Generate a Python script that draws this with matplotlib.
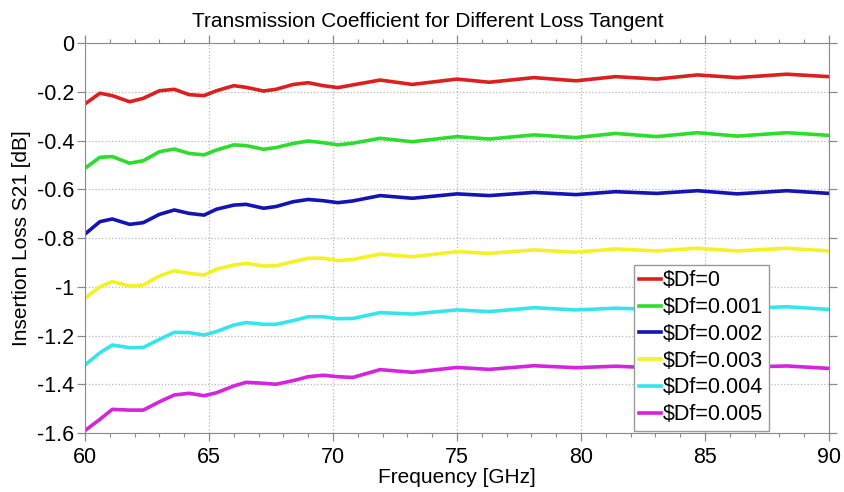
import numpy as np
import matplotlib
matplotlib.use('Agg')
from matplotlib import pyplot as plt
from matplotlib.ticker import MultipleLocator, FormatStrFormatter

# frequency points [GHz]
freq = [60, 60.6, 61.1, 61.8, 62.35, 63.0, 63.6, 64.2, 64.8, 65.3, 66.0, 66.5, 67.2, 67.7,
        68.4, 69.0, 69.6, 70.2, 70.8, 71.9, 73.2, 75.0, 76.3, 78.1, 79.8, 81.4, 83.05,
        84.7, 86.3, 88.3, 90]

# S21 [dB] for each loss tangent
s21_df0 = [-0.250, -0.206, -0.216, -0.241, -0.227, -0.196, -0.190, -0.212, -0.216, -0.196,
           -0.175, -0.182, -0.197, -0.190, -0.170, -0.163, -0.175, -0.183, -0.172, -0.152,
           -0.170, -0.148, -0.161, -0.142, -0.155, -0.138, -0.148, -0.131, -0.142, -0.128, -0.138]
s21_df1 = [-0.514, -0.469, -0.466, -0.493, -0.483, -0.446, -0.435, -0.453, -0.459, -0.439,
           -0.418, -0.421, -0.436, -0.429, -0.412, -0.402, -0.409, -0.418, -0.411, -0.391,
           -0.405, -0.384, -0.394, -0.377, -0.388, -0.371, -0.384, -0.368, -0.382, -0.368, -0.379]
s21_df2 = [-0.784, -0.733, -0.722, -0.744, -0.737, -0.703, -0.685, -0.699, -0.706, -0.682,
           -0.665, -0.662, -0.678, -0.671, -0.651, -0.642, -0.647, -0.655, -0.648, -0.626,
           -0.637, -0.619, -0.626, -0.613, -0.622, -0.610, -0.617, -0.606, -0.619, -0.606, -0.617]
s21_df3 = [-1.047, -1.000, -0.979, -0.997, -0.993, -0.956, -0.934, -0.945, -0.952, -0.928,
           -0.911, -0.904, -0.915, -0.914, -0.897, -0.883, -0.883, -0.893, -0.888, -0.866,
           -0.877, -0.856, -0.863, -0.849, -0.858, -0.845, -0.853, -0.842, -0.853, -0.842, -0.853]
s21_df4 = [-1.321, -1.271, -1.239, -1.250, -1.249, -1.216, -1.187, -1.188, -1.198, -1.184,
           -1.157, -1.147, -1.154, -1.154, -1.139, -1.123, -1.123, -1.131, -1.130, -1.106,
           -1.112, -1.095, -1.102, -1.086, -1.095, -1.088, -1.093, -1.084, -1.090, -1.082, -1.093]
s21_df5 = [-1.590, -1.544, -1.503, -1.506, -1.506, -1.472, -1.444, -1.437, -1.447, -1.435,
           -1.407, -1.392, -1.396, -1.400, -1.385, -1.369, -1.363, -1.369, -1.372, -1.340,
           -1.351, -1.331, -1.339, -1.324, -1.332, -1.326, -1.333, -1.325, -1.330, -1.325, -1.335]

labels = [r'\$Df=0', r'\$Df=0.001', r'\$Df=0.002', r'\$Df=0.003', r'\$Df=0.004', r'\$Df=0.005']
colors = ['#dd1f1f', '#2ddc2d', '#1414b4', '#f2f226', '#36e4ec', '#d424dc']

plt.rcParams['font.family'] = ['Liberation Sans', 'DejaVu Sans']
plt.rcParams['axes.unicode_minus'] = False

fig = plt.figure(figsize=(8.44, 4.92), dpi=100)
ax = fig.add_axes([0.1007, 0.1199, 0.8815, 0.7927])

for y, c, lab in zip([s21_df0, s21_df1, s21_df2, s21_df3, s21_df4, s21_df5], colors, labels):
    ax.plot(freq, y, color=c, lw=2.6, label=lab, solid_joinstyle='round')

ax.set_xlim(60, 90)
ax.set_ylim(-1.6, 0)
ax.xaxis.set_major_locator(MultipleLocator(5))
ax.xaxis.set_minor_locator(MultipleLocator(1))
ax.yaxis.set_major_locator(MultipleLocator(0.2))
ax.yaxis.set_major_formatter(FormatStrFormatter('%g'))

ax.tick_params(which='both', direction='out', top=True, right=True, colors='#8a8a8a',
               labelcolor='black', labelsize=15.5)
ax.tick_params(which='major', length=5.8, width=0.9)
ax.tick_params(which='minor', length=2.6, width=0.8)
ax.tick_params(axis='x', which='major', pad=4.5)
ax.tick_params(axis='y', which='major', pad=2.2)
for s in ax.spines.values():
    s.set_color('#8a8a8a')

ax.grid(True, which='major', linestyle=':', color='#b8b8b8', lw=0.9)

fig.text(427.5 / 844, 1 - 27 / 492, 'Transmission Coefficient for Different Loss Tangent',
         fontsize=15, ha='center', va='baseline')
ax.set_xlabel('Frequency [GHz]', fontsize=15, labelpad=0)
ax.set_ylabel('Insertion Loss S21 [dB]', fontsize=15, labelpad=4)

leg = ax.legend(loc='lower left', bbox_to_anchor=(0.738, 0.006), fontsize=15.5,
                handlelength=1.0, handletextpad=0.1, labelspacing=0.27,
                borderpad=0.25, borderaxespad=0, fancybox=False, framealpha=1)
leg.get_frame().set_edgecolor('#9a9a9a')
leg.get_frame().set_linewidth(1.0)

fig.savefig('out.png', dpi=100)
